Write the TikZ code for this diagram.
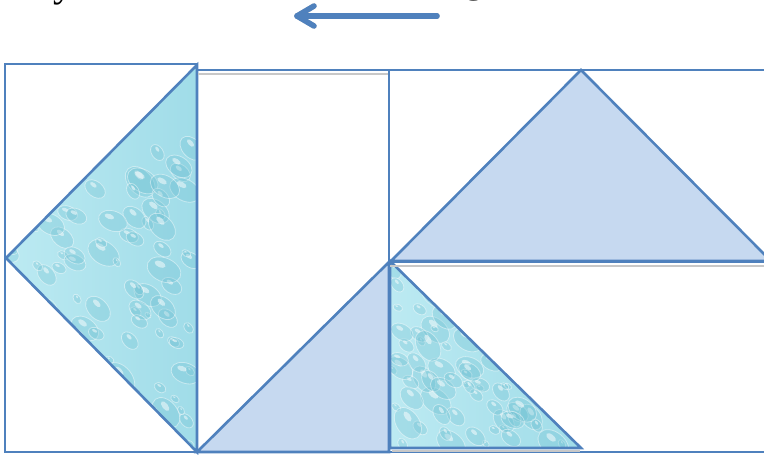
\documentclass[tikz,border=0pt]{standalone}
\usepackage{fontspec}
\setmainfont{Liberation Serif}
\definecolor{edge}{RGB}{79,129,189}
\definecolor{pale}{RGB}{198,217,240}
\definecolor{waterlt}{RGB}{188,234,242}
\definecolor{waterdk}{RGB}{160,220,232}
\definecolor{dropdk}{RGB}{110,192,210}
\definecolor{shadowgrey}{RGB}{200,200,200}
\tikzset{
  outline/.style={draw=edge,line width=2.6pt,line join=miter},
  paleshape/.style={outline,fill=pale},
  shadowline/.style={draw=shadowgrey,line width=2pt},
  arrowline/.style={draw=edge,line width=5.5pt,line cap=round,line join=round},
  arrowshadow/.style={draw=shadowgrey,line width=5.5pt,line cap=round,line join=round},
  drop/.style={fill=dropdk,fill opacity=0.3,draw=white,draw opacity=0.45,line width=0.8pt},
  glint/.style={fill=white,fill opacity=0.5},
  bigtext/.style={font=\fontsize{40}{44}\selectfont,inner sep=0pt,anchor=base}
}
% water-textured triangle: corners, then bbox x0,y0,w,h
\newcommand\watertri[7]{%
  \begin{scope}
    \clip #1 -- #2 -- #3 -- cycle;
    \shade[left color=waterlt,right color=waterdk] (#4,#5) rectangle ++(#6,#7);
    \pgfmathsetseed{#4}
    \foreach \k in {1,...,110}{%
      \pgfmathsetmacro\xx{#4+rnd*#6}%
      \pgfmathsetmacro\yy{#5+rnd*#7}%
      \pgfmathsetmacro\rr{2+rnd*10}%
      \pgfmathsetmacro\ang{-20-rnd*40}%
      \fill[drop,rotate around={\ang:(\xx,\yy)}] (\xx,\yy) ellipse ({\rr*1.5} and \rr);
      \fill[glint,rotate around={\ang:(\xx,\yy)}] (\xx-\rr*0.5,\yy-\rr*0.3) ellipse ({\rr*0.5} and {\rr*0.25});
    }
  \end{scope}
  \draw[outline] #1 -- #2 -- #3 -- cycle;
}
\begin{document}
\begin{tikzpicture}[x=1pt,y=-1pt]
  \useasboundingbox (0,0) rectangle (764,455);
  % partly visible title letters
  \node[bigtext] (ty) at (63,-4) {y};
  \node[bigtext] (tg) at (474,-8) {g};
  % arrow
  \coordinate (aR) at (437,16);
  \coordinate (aL) at (297,16);
  \coordinate (aU) at (314,6);
  \coordinate (aD) at (314,26);
  \begin{scope}[shift={(2,3)}]
    \draw[arrowshadow] (aR) -- (aL);
    \draw[arrowshadow] (aU) -- (aL) -- (aD);
  \end{scope}
  \draw[arrowline] (aR) -- (aL);
  \draw[arrowline] (aU) -- (aL) -- (aD);

  % corners
  \coordinate (A1) at (5,64);   \coordinate (A2) at (197,452);
  \coordinate (B1) at (197,70); \coordinate (B2) at (389,452);
  \coordinate (C1) at (389,70); \coordinate (C2) at (772,262);
  \coordinate (D1) at (389,262);\coordinate (D2) at (772,452);

  % left square + water triangle
  \draw[outline] (A1) rectangle (A2);
  \watertri{(197,65)}{(6,258)}{(197,452)}{6}{65}{191}{387}

  % middle rect + pale triangle
  \draw[shadowline] (198,73.5) -- (388,73.5);
  \draw[outline] (B1) rectangle (B2);
  \draw[paleshape] (197,452) -- (389,262) -- (389,452) -- cycle;

  % lower right rect + water triangle
  \draw[outline] (D1) rectangle (D2);
  \draw[shadowline] (392,451) -- (580,451);
  \watertri{(390,261)}{(390,448)}{(581,448)}{390}{260}{191}{189}

  % upper right rect + pale triangle
  \draw[shadowline] (390,265.5) -- (772,265.5);
  \draw[outline] (C1) rectangle (C2);
  \draw[shadowgrey,line width=1.5pt] (583,73) -- (772,263);
  \draw[paleshape] (391,261) -- (581,70) -- (771,261) -- cycle;
\end{tikzpicture}
\end{document}
